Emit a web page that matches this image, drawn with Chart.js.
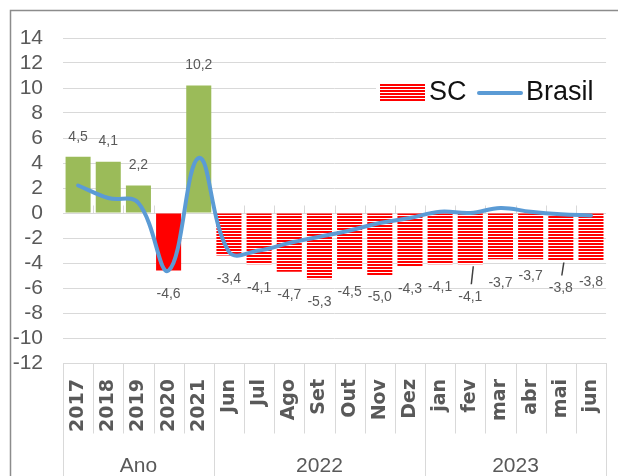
<!DOCTYPE html>
<html>
<head>
<meta charset="utf-8">
<script src="https://cdn.jsdelivr.net/npm/chart.js@4"></script>
<style>
  html, body { margin: 0; padding: 0; overflow: hidden; background: #fff; }
  #box { position: absolute; left: 0; top: 0; width: 630px; height: 476px; }
</style>
</head>
<body>
<div id="box"><canvas id="grafico"></canvas></div>
<script>
// dados
const categories = ['2017', '2018', '2019', '2020', '2021', 'Jun', 'Jul', 'Ago', 'Set', 'Out', 'Nov', 'Dez', 'jan', 'fev', 'mar', 'abr', 'mai', 'jun'];
const groupLabels = ['Ano', '2022', '2023'];
const groupSizes = [5, 7, 6];
const scValues = [4.5, 4.1, 2.2, -4.6, 10.2, -3.4, -4.1, -4.7, -5.3, -4.5, -5.0, -4.3, -4.1, -4.1, -3.7, -3.7, -3.8, -3.8];
const brasilValues = [2.2, 1.2, 0.8, -4.6, 4.4, -3.1, -3.0, -2.4, -1.9, -1.4, -0.8, -0.4, 0.1, 0.0, 0.4, 0.1, -0.1, -0.2];
const yTickValues = [14, 12, 10, 8, 6, 4, 2, 0, -2, -4, -6, -8, -10, -12];

// ajustes finos dos rótulos (px extra na vertical)
const labelNudge = [0, 1, 0, 1, 0, 1, 1, 0, 0, 0, -1, -1, 0, 10, 1, -6, 5, -1];
const leaderLines = { 13: true, 16: true };

const GRID = '#d9d9d9';
const TXT = '#595959';
const VERDE = '#9BBB59';
const VERMELHO = '#FF0000';
const AZUL = '#5B9BD5';

// padrão listrado horizontal (vermelho / branco)
function listras() {
  const c = document.createElement('canvas');
  c.width = 4; c.height = 3;
  const g = c.getContext('2d');
  g.fillStyle = '#ffffff';
  g.fillRect(0, 0, 4, 3);
  g.fillStyle = VERMELHO;
  g.fillRect(0, 0, 4, 2);
  return g.createPattern(c, 'repeat');
}
const padrao = listras();

const barColors = scValues.map((v, i) => {
  if (i < groupSizes[0]) return v < 0 ? VERMELHO : VERDE;
  return padrao;
});

const fmt = v => v.toFixed(1).replace('.', ',');

const decoracao = {
  id: 'decoracao',
  beforeDraw(chart) {
    const ctx = chart.ctx;
    ctx.save();
    ctx.fillStyle = '#fff';
    ctx.fillRect(0, 0, chart.width, chart.height);
    ctx.restore();
  },
  beforeDatasetsDraw(chart) {
    // marcas de categoria sobre a linha do zero
    const ctx = chart.ctx, xs = chart.scales.x, ys = chart.scales.y;
    const w = (xs.right - xs.left) / categories.length;
    const y0 = Math.round(ys.getPixelForValue(0)) + 0.5;
    ctx.save();
    ctx.strokeStyle = GRID;
    ctx.lineWidth = 1;
    ctx.beginPath();
    for (let i = 1; i < categories.length; i++) {
      const x = Math.round(xs.left + i * w) + 0.5;
      ctx.moveTo(x, y0 - 8);
      ctx.lineTo(x, y0);
    }
    ctx.stroke();
    ctx.restore();
  },
  afterDatasetsDraw(chart) {
    // rótulos de dados
    const ctx = chart.ctx;
    const meta = chart.getDatasetMeta(0);
    ctx.save();
    ctx.font = '14px "Liberation Sans", Arial, sans-serif';
    ctx.fillStyle = TXT;
    ctx.textAlign = 'center';
    ctx.textBaseline = 'middle';
    meta.data.forEach((bar, i) => {
      const v = scValues[i];
      const y = v >= 0 ? bar.y - 20 - labelNudge[i] : bar.y + 23 + labelNudge[i];
      ctx.fillText(fmt(v), bar.x, y);
      if (leaderLines[i]) {
        ctx.strokeStyle = '#404040';
        ctx.lineWidth = 1.5;
        ctx.beginPath();
        ctx.moveTo(bar.x + 3, bar.y + 2);
        ctx.lineTo(bar.x + 1, y - 13);
        ctx.stroke();
      }
    });
    ctx.restore();
  },
  afterDraw(chart) {
    const ctx = chart.ctx, xs = chart.scales.x;
    const n = categories.length;
    const w = (xs.right - xs.left) / n;
    const base = Math.round(xs.top) + 0.5;
    const bounds = [0];
    groupSizes.forEach(s => bounds.push(bounds[bounds.length - 1] + s));
    ctx.save();
    // divisórias do eixo de categorias
    ctx.strokeStyle = GRID;
    ctx.lineWidth = 1;
    ctx.beginPath();
    for (let i = 0; i <= n; i++) {
      const x = Math.round(xs.left + i * w) + 0.5;
      ctx.moveTo(x, base);
      ctx.lineTo(x, bounds.includes(i) ? chart.height : base + 70);
    }
    ctx.stroke();
    // rótulos de grupo
    ctx.font = '21px "Liberation Sans", Arial, sans-serif';
    ctx.fillStyle = TXT;
    ctx.textAlign = 'center';
    ctx.textBaseline = 'middle';
    groupLabels.forEach((g, k) => {
      const cx = xs.left + (bounds[k] + bounds[k + 1]) / 2 * w;
      ctx.fillText(g, cx, 466);
    });
    // moldura
    ctx.strokeStyle = '#8c8c8c';
    ctx.lineWidth = 1.5;
    ctx.strokeRect(10.5, 10.5, 800, 800);
    // legenda
    ctx.fillStyle = '#fff';
    ctx.fillRect(376, 76, 234, 34);
    ctx.fillStyle = padrao;
    ctx.fillRect(380, 84, 45, 18);
    ctx.font = '27px "Liberation Sans", Arial, sans-serif';
    ctx.fillStyle = '#111';
    ctx.textAlign = 'left';
    ctx.textBaseline = 'middle';
    ctx.fillText(chart.data.datasets[0].label, 429, 93);
    ctx.strokeStyle = AZUL;
    ctx.lineWidth = 4;
    ctx.lineCap = 'round';
    ctx.beginPath();
    ctx.moveTo(479, 93);
    ctx.lineTo(521, 93);
    ctx.stroke();
    ctx.fillText(chart.data.datasets[1].label, 526, 93);
    ctx.restore();
  }
};

new Chart(document.getElementById('grafico'), {
  type: 'bar',
  data: {
    labels: categories,
    datasets: [
      {
        label: 'SC',
        data: scValues,
        backgroundColor: barColors,
        borderWidth: 0,
        barPercentage: 0.83,
        categoryPercentage: 1,
        order: 1
      },
      {
        type: 'line',
        label: 'Brasil',
        data: brasilValues,
        borderColor: AZUL,
        borderWidth: 4,
        borderCapStyle: 'round',
        pointRadius: 0,
        tension: 0.4,
        fill: false,
        order: 0
      }
    ]
  },
  options: {
    responsive: true,
    maintainAspectRatio: false,
    animation: false,
    layout: { padding: { left: 0, top: 38, right: 8, bottom: 0 } },
    plugins: {
      legend: { display: false },
      tooltip: { enabled: false }
    },
    scales: {
      x: {
        grid: { display: false, drawTicks: false },
        border: { display: true, color: GRID },
        ticks: {
          autoSkip: false,
          minRotation: 90,
          maxRotation: 90,
          padding: 16,
          color: TXT,
          font: { family: '"DejaVu Sans", sans-serif', size: 19, weight: 'bold' }
        },
        afterFit: s => { s.height = 113; }
      },
      y: {
        min: -12,
        max: 14,
        afterBuildTicks: s => { s.ticks = yTickValues.map(v => ({ value: v })); },
        grid: { color: GRID, drawTicks: false },
        border: { display: false },
        ticks: {
          autoSkip: false,
          padding: 20,
          color: TXT,
          font: { family: '"Liberation Sans", Arial, sans-serif', size: 21 },
          callback: v => String(v)
        },
        afterFit: s => { s.width = 63; }
      }
    }
  },
  plugins: [decoracao]
});
</script>
</body>
</html>
